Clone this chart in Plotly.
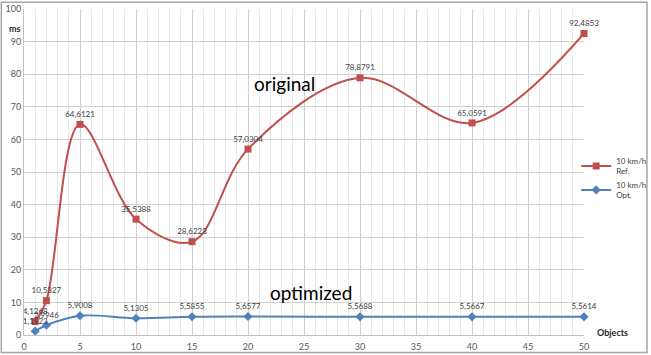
import plotly.graph_objects as go

objects = [1, 2, 5, 10, 15, 20, 30, 40, 50]
ref_ms = [4.1268, 10.5327, 64.6121, 35.5388, 28.6223, 57.0304, 78.8791, 65.0591, 92.4853]
opt_ms = [1.1823, 2.9946, 5.9008, 5.1305, 5.5855, 5.6577, 5.5688, 5.5667, 5.5614]
ref_name = "10 km/h<br>Ref."
opt_name = "10 km/h<br>Opt."

def fmt(v):
    return f"{v:.4f}".replace(".", ",")

FONT = "Lato, 'Liberation Sans', sans-serif"

fig = go.Figure()
fig.add_trace(go.Scatter(
    x=objects, y=ref_ms, name=ref_name, mode="lines+markers+text",
    line=dict(color="#C0504D", width=2, shape="spline", smoothing=1.0),
    marker=dict(symbol="square", size=7, color="#C0504D"),
    text=[fmt(v) for v in ref_ms], textposition="top center",
    textfont=dict(size=8, color="#404040", family=FONT), cliponaxis=False,
))
fig.add_trace(go.Scatter(
    x=objects, y=opt_ms, name=opt_name, mode="lines+markers+text",
    line=dict(color="#4F81BD", width=2, shape="spline", smoothing=1.0),
    marker=dict(symbol="diamond", size=7, color="#4F81BD"),
    text=[fmt(v) for v in opt_ms], textposition="top center",
    textfont=dict(size=8, color="#404040", family=FONT), cliponaxis=False,
))

fig.add_annotation(x=23.3, y=77.3, text="original", showarrow=False,
                   font=dict(size=19, color="black", family=FONT))
fig.add_annotation(x=25.6, y=12.9, text="optimized", showarrow=False,
                   font=dict(size=19, color="black", family=FONT))
fig.add_annotation(xref="paper", yref="paper", x=-0.002, y=0.963, xanchor="right",
                   text="<b>ms</b>", showarrow=False,
                   font=dict(size=9, color="#262626", family=FONT))
fig.add_annotation(xref="paper", yref="paper", x=1.05, y=-0.016, xanchor="center",
                   text="<b>Objects</b>", showarrow=False,
                   font=dict(size=9, color="#262626", family=FONT))

# outer chart border
fig.add_shape(type="rect", xref="paper", yref="paper",
              x0=-0.0405, x1=1.1125, y0=-0.054, y1=1.021,
              line=dict(color="#A6A6A6", width=1.5), fillcolor="rgba(0,0,0,0)", layer="above")

fig.update_layout(
    width=651, height=355,
    margin=dict(l=24, r=67, t=9, b=20, autoexpand=False),
    paper_bgcolor="white", plot_bgcolor="white",
    font=dict(family=FONT, size=9, color="#595959"),
    showlegend=True,
    legend=dict(x=0.986, y=0.57, xanchor="left", yanchor="top",
                font=dict(size=8, color="#404040", family=FONT),
                bgcolor="rgba(0,0,0,0)", tracegroupgap=8, itemwidth=30),
    xaxis=dict(range=[0, 50], dtick=5, tick0=0, showgrid=True, gridcolor="#D0D0D0", gridwidth=1,
               minor=dict(dtick=1, showgrid=True, gridcolor="#E8E8E8", gridwidth=1),
               showline=True, linecolor="#BFBFBF", zeroline=False, ticks="outside",
               ticklen=3, tickcolor="rgba(0,0,0,0)",
               tickfont=dict(size=9, color="#595959")),
    yaxis=dict(range=[0, 100], dtick=10, tick0=0, showgrid=True, gridcolor="#D0D0D0", gridwidth=1,
               showline=True, linecolor="#BFBFBF", zeroline=False, ticks="",
               tickfont=dict(size=9, color="#595959")),
)

fig.write_html("out.html")
